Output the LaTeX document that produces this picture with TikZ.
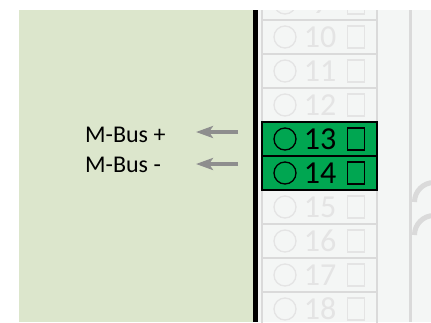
\documentclass[tikz,border=0pt]{standalone}
\usepackage{fontspec}
\setmainfont{Carlito}
\usetikzlibrary{arrows.meta}
\definecolor{panelgreen}{HTML}{DCE6CC}
\definecolor{devgray}{HTML}{F4F6F5}
\definecolor{cellline}{HTML}{DADADA}
\definecolor{faint}{HTML}{E4E4E4}
\definecolor{termgreen}{HTML}{00A651}
\definecolor{arrowgray}{HTML}{8E8E8E}
\tikzset{
  cell/.style={draw=cellline, line width=1.5pt, minimum width=115pt, minimum height=34pt, inner sep=0pt, outer sep=0pt},
  activecell/.style={draw=black, fill=termgreen, line width=1.5pt, minimum width=115pt, minimum height=34pt, inner sep=0pt, outer sep=0pt},
  hole/.style={circle, draw=faint, line width=1.3pt, minimum size=22pt, inner sep=0pt},
  activehole/.style={circle, draw=black, line width=1.3pt, minimum size=22pt, inner sep=0pt},
  numtxt/.style={text=faint, font=\fontsize{32}{32}\selectfont, inner sep=0pt},
  activenum/.style={text=black, font=\fontsize{32}{32}\selectfont, inner sep=0pt},
  screw/.style={draw=faint, line width=1.3pt, minimum width=17pt, minimum height=22pt, inner sep=0pt},
  activescrew/.style={draw=black, line width=1.3pt, minimum width=17pt, minimum height=22pt, inner sep=0pt},
  lbl/.style={font=\fontsize{24}{24}\selectfont, inner sep=0pt, text=black},
  busarrow/.style={draw=arrowgray, line width=4.5pt, -{Stealth[length=17pt,width=12pt,inset=4pt]}},
  arcstyle/.style={draw=cellline, line width=5pt},
}
\begin{document}
\begin{tikzpicture}[x=1pt,y=-1pt]
\useasboundingbox (0,0) rectangle (431,322);
\fill[white] (0,0) rectangle (431,322);
\fill[panelgreen] (19,10) rectangle (253,322);
\fill[black] (253,10) rectangle (258,322);
\fill[devgray] (258,10) rectangle (431,322);
\begin{scope}
  \clip (258,10) rectangle (431,322);
  \draw[cellline, line width=3pt] (410.5,10) -- (410.5,322);
  \draw[arcstyle] (414.5,202) arc[start angle=180, end angle=90, radius=19.5pt];
  \draw[arcstyle] (414.5,235) arc[start angle=180, end angle=90, radius=19.5pt];
  \foreach \k in {9,10,11,12,15,16,17,18} {
    \node[cell] (t\k) at (319.5, {20+(\k-10)*34+17}) {};
    \node[hole] (h\k) at (285, {20+(\k-10)*34+17}) {};
    \node[numtxt] (n\k) at (320, {20+(\k-10)*34+17}) {\k};
    \node[screw] (s\k) at (356, {20+(\k-10)*34+17}) {};
  }
  \foreach \k in {13,14} {
    \node[activecell] (t\k) at (319.5, {20+(\k-10)*34+17}) {};
    \node[activehole] (h\k) at (285, {20+(\k-10)*34+17}) {};
    \node[activenum] (n\k) at (320, {20+(\k-10)*34+17}) {\k};
    \node[activescrew] (s\k) at (356, {20+(\k-10)*34+17}) {};
  }
\end{scope}
\node[lbl, anchor=base west] (mbp) at (85,142) {M-Bus +};
\node[lbl, anchor=base west] (mbm) at (85,172) {M-Bus -};
\coordinate (a1s) at (238,132);
\coordinate (a1e) at (196,132);
\coordinate (a2s) at (238,164);
\coordinate (a2e) at (196,164);
\draw[busarrow] (a1s) -- (a1e);
\draw[busarrow] (a2s) -- (a2e);
\end{tikzpicture}
\end{document}
